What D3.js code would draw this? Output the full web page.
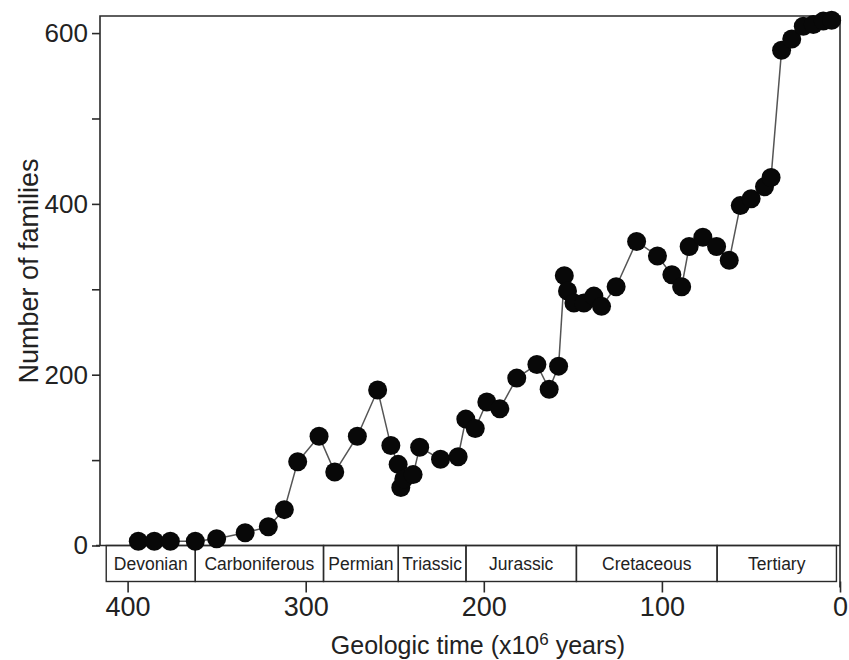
<!DOCTYPE html>
<html>
<head>
<meta charset="utf-8">
<script src="https://cdn.jsdelivr.net/npm/d3@7"></script>
<style>
  body { margin: 0; background: #fff; }
  svg { font-family: "Liberation Sans", Arial, sans-serif; }
</style>
</head>
<body>
<svg id="chart" width="849" height="660"></svg>
<script>
// ages (million years before present) and number of families at each sample
var ages = [394, 385, 376, 362, 350, 334, 321, 312, 304.5, 292.5, 283.7, 271, 259.6,
    252.2, 248.1, 246.6, 244.9, 239.7, 236, 224.3, 214.4, 210.1, 204.8, 198.3, 191,
    181.5, 170.2, 163.3, 158, 154.8, 153, 149.4, 143.8, 138.2, 133.9, 125.7, 114.2,
    102.5, 94.4, 88.9, 84.7, 77, 69.3, 62.2, 56, 49.9, 42.4, 38.7, 32.8, 27.1, 20.6,
    15, 9.4, 4.7];
var families = [5, 5, 5, 5, 8, 15, 22, 42, 98, 128, 86, 128, 182,
    117, 95, 68, 78, 83, 115, 101, 104, 148, 137, 168, 160,
    196, 212, 183, 210, 316, 298, 284, 284, 292, 280, 303, 356,
    339, 317, 303, 350, 361, 350, 334, 398, 406, 420, 431, 580, 593, 608,
    610, 614, 615];

// geologic periods: names and their boundaries (oldest first)
var periodNames = ["Devonian", "Carboniferous", "Permian", "Triassic", "Jurassic", "Cretaceous", "Tertiary"];
var periodBounds = [412, 362, 290, 248, 210, 148, 69, 2];

var xTicks = [400, 300, 200, 100, 0];
var yTicks = [0, 100, 200, 300, 400, 500, 600];
var yLabels = [0, 200, 400, 600];

var svg = d3.select("#chart");

var plotL = 100, plotR = 840, plotT = 16, plotB = 545.5;
var boxH = 36;

var x = d3.scaleLinear().domain([415.5, 0]).range([plotL, plotR]);
var y = d3.scaleLinear().domain([0, 620]).range([plotB, plotT]);

var ink = "#2a2a2a";

// frame: left axis, top, right
svg.append("path")
    .attr("d", "M" + plotL + "," + plotB + "V" + plotT + "H" + plotR + "V" + (plotB + boxH + 6))
    .attr("fill", "none")
    .attr("stroke", ink)
    .attr("stroke-width", 1.6);

// y axis ticks
var yAxis = d3.axisLeft(y)
    .tickValues(yTicks)
    .tickSize(8)
    .tickFormat(function(d) { return yLabels.indexOf(d) >= 0 ? d : ""; });
var gy = svg.append("g")
    .attr("transform", "translate(" + plotL + ",0)")
    .call(yAxis);
gy.select(".domain").remove();
gy.selectAll("line").attr("stroke", ink).attr("stroke-width", 1.6);
gy.selectAll("text")
    .attr("fill", "#222")
    .attr("x", -12)
    .style("font-size", "26px")
    .style("font-family", "Liberation Sans, Arial, sans-serif");

// zero baseline
svg.append("line")
    .attr("x1", plotL - 4).attr("x2", plotR)
    .attr("y1", y(0)).attr("y2", y(0))
    .attr("stroke", ink).attr("stroke-width", 1.6);

// period strip
var periods = periodNames.map(function(n, i) {
    return { name: n, start: periodBounds[i], end: periodBounds[i + 1] };
});
var strip = svg.append("g");
strip.selectAll("rect")
    .data(periods)
    .enter().append("rect")
    .attr("x", function(d) { return x(d.start); })
    .attr("y", y(0))
    .attr("width", function(d) { return x(d.end) - x(d.start); })
    .attr("height", boxH)
    .attr("fill", "none")
    .attr("stroke", ink)
    .attr("stroke-width", 1.4);
strip.selectAll("text")
    .data(periods)
    .enter().append("text")
    .attr("x", function(d) { return (x(d.start) + x(d.end)) / 2; })
    .attr("y", y(0) + 24)
    .attr("text-anchor", "middle")
    .attr("fill", "#222")
    .style("font-size", "17.5px")
    .text(function(d) { return d.name; });

// x axis below the strip
var xAxis = d3.axisBottom(x).tickValues(xTicks).tickSize(11).tickFormat(d3.format("d"));
var gx = svg.append("g")
    .attr("transform", "translate(0," + (y(0) + boxH) + ")")
    .call(xAxis);
gx.select(".domain").remove();
gx.selectAll("line").attr("stroke", ink).attr("stroke-width", 1.6);
gx.selectAll("text")
    .attr("fill", "#222")
    .attr("y", 15)
    .style("font-size", "27px")
    .style("font-family", "Liberation Sans, Arial, sans-serif");

// connecting line
var pts = ages.map(function(a, i) { return [a, families[i]]; });
var line = d3.line()
    .x(function(d) { return x(d[0]); })
    .y(function(d) { return y(d[1]); });
svg.append("path")
    .datum(pts)
    .attr("d", line)
    .attr("fill", "none")
    .attr("stroke", "#555")
    .attr("stroke-width", 1.5);

svg.selectAll("circle.pt")
    .data(pts)
    .enter().append("circle")
    .attr("class", "pt")
    .attr("cx", function(d) { return x(d[0]); })
    .attr("cy", function(d) { return y(d[1]); })
    .attr("r", 9.5)
    .attr("fill", "#080808");

// axis titles
var xt = svg.append("text")
    .attr("x", 478)
    .attr("y", 654)
    .attr("text-anchor", "middle")
    .attr("fill", "#222")
    .style("font-size", "25px");
xt.append("tspan").text("Geologic time (x10");
xt.append("tspan").attr("dy", -9).style("font-size", "17px").text("6");
xt.append("tspan").attr("dy", 9).text(" years)");

svg.append("text")
    .attr("transform", "translate(38,271) rotate(-90)")
    .attr("text-anchor", "middle")
    .attr("fill", "#222")
    .style("font-size", "27px")
    .text("Number of families");
</script>
</body>
</html>
